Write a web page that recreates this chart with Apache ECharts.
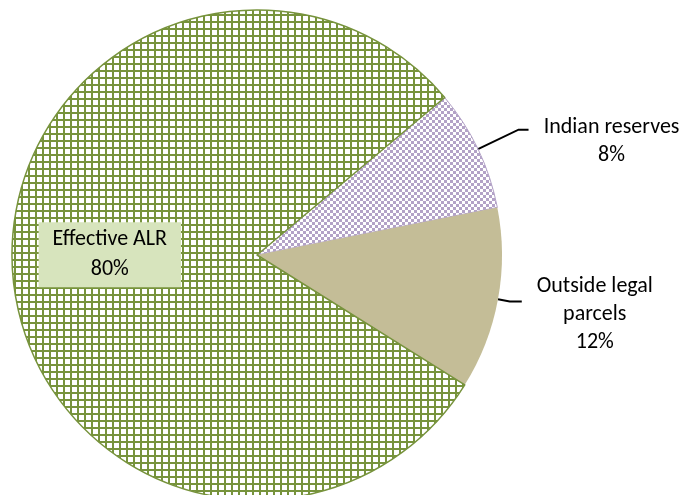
<!DOCTYPE html>
<html>
<head>
<meta charset="utf-8">
<script src="https://cdn.jsdelivr.net/npm/echarts@6/dist/echarts.min.js"></script>
<style>
  html, body { margin: 0; padding: 0; background: #fff; }
  #chart { width: 692px; height: 495px; }
</style>
</head>
<body>
<div id="chart"></div>
<script>
const categories = ['Indian reserves', 'Outside legal parcels', 'Effective ALR'];
const shares = [8, 12, 80];
const labelLines = [['Indian reserves', '8%'], ['Outside legal', 'parcels', '12%'], ['Effective ALR', '80%']];

const FONT = "Carlito, 'Liberation Sans Narrow', 'Liberation Sans', sans-serif";

// tiled fills, same look as the office hatch patterns
function gridTile() {
  const c = document.createElement('canvas');
  c.width = 7; c.height = 7;
  const g = c.getContext('2d');
  g.fillStyle = '#ffffff'; g.fillRect(0, 0, 7, 7);
  g.fillStyle = '#77933c';
  g.fillRect(0, 0, 7, 2);
  g.fillRect(0, 0, 2, 7);
  return c;
}
function checkerTile() {
  const c = document.createElement('canvas');
  c.width = 6; c.height = 6;
  const g = c.getContext('2d');
  g.fillStyle = '#ffffff'; g.fillRect(0, 0, 6, 6);
  g.fillStyle = '#b3a2c7';
  g.fillRect(0, 0, 3, 3);
  g.fillRect(3, 3, 3, 3);
  return c;
}

const fills = [
  { image: checkerTile(), repeat: 'repeat' },
  '#c4bd97',
  { image: gridTile(), repeat: 'repeat' },
];
const borders = ['#b3a2c7', '#c4bd97', '#77933c'];

const chart = echarts.init(document.getElementById('chart'), null, { renderer: 'canvas' });

const sideLabel = (lines, w, padTop) => ({
  position: 'outside',
  formatter: lines.map(s => '{a|' + s + '}').join('\n'),
  padding: [padTop, 0, 0, 0],
  rich: { a: { width: w, align: 'center', fontSize: 22, lineHeight: 28, color: '#000', fontFamily: FONT } },
});

const data = categories.map((name, i) => ({ name, value: shares[i] }));
data[0].itemStyle = { color: fills[0], borderColor: borders[0], borderWidth: 1 };
data[0].label = sideLabel(labelLines[0], 156, 23);
data[0].labelLine = { length: 45, length2: 10 };
data[1].itemStyle = { color: fills[1], borderColor: borders[1], borderWidth: 0 };
data[1].label = sideLabel(labelLines[1], 136, 26);
data[1].labelLine = { length: 12, length2: 12 };
data[2].itemStyle = { color: fills[2], borderColor: borders[2], borderWidth: 1.5 };
data[2].label = {
  position: 'inside',
  formatter: labelLines[2].join('\n'),
  fontSize: 22, lineHeight: 30, color: '#000', fontFamily: FONT,
  backgroundColor: '#d7e4bd',
  padding: [3, 14, 2, 14],
  offset: [-22, -9],
};
data[2].labelLine = { show: false };

chart.setOption({
  backgroundColor: '#ffffff',
  animation: false,
  series: [{
    type: 'pie',
    center: [257, 255],
    radius: 245,
    startAngle: 40,
    clockwise: true,
    avoidLabelOverlap: false,
    data,
    label: { show: true },
    labelLine: { show: true, lineStyle: { color: '#000', width: 2 }, smooth: false },
    emphasis: { disabled: true },
  }],
});
</script>
</body>
</html>
